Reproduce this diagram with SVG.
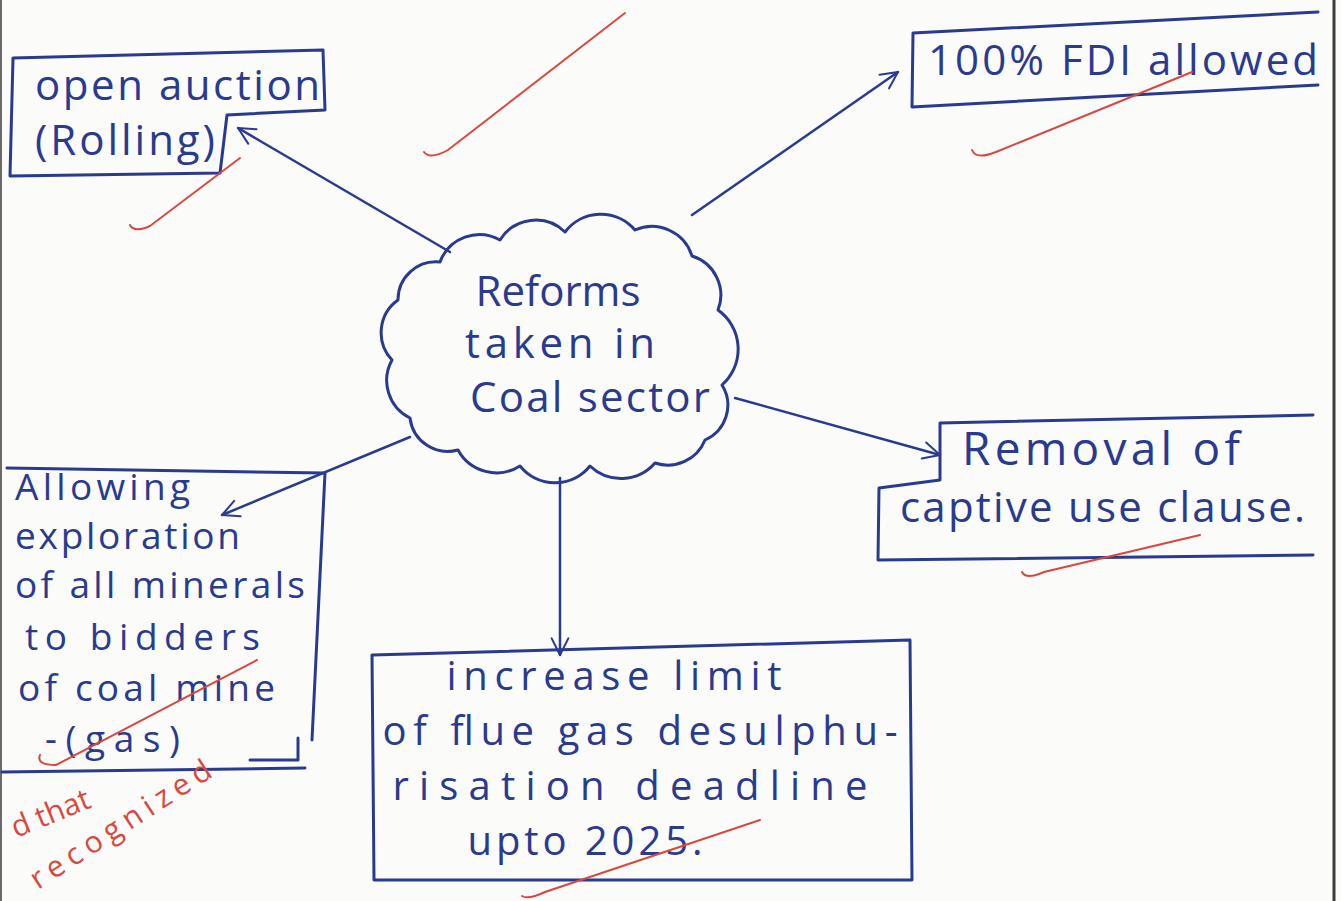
<svg xmlns="http://www.w3.org/2000/svg" width="1341" height="901" viewBox="0 0 1341 901">
<defs>
<style>
.ink{fill:none;stroke:#2a3a8f;stroke-width:3;stroke-linecap:round;stroke-linejoin:round}
.con{fill:none;stroke:#2a3a8f;stroke-width:2.5;stroke-linecap:round}
.red{fill:none;stroke:#d8483f;stroke-width:2;stroke-linecap:round}
.t{font-family:"Open Sans","Liberation Sans",sans-serif;fill:#2a3a8f;font-size:42px}
.s{font-size:37px}
.m{font-size:40px}
.b{font-size:46px}
.c{text-anchor:middle}
.rt{font-family:"Open Sans","Liberation Sans",sans-serif;fill:#d8483f;font-size:30px}
</style>
<marker id="arr" viewBox="0 0 12 12" refX="11" refY="6" markerWidth="20" markerHeight="20" orient="auto" markerUnits="userSpaceOnUse">
<path d="M1,1 L11,6 L1,11" fill="none" stroke="#2a3a8f" stroke-width="1.2" stroke-linecap="round" stroke-linejoin="round"/>
</marker>
</defs>
<rect width="1341" height="901" fill="#fbfbfa"/>
<line x1="1334" y1="0" x2="1334" y2="901" stroke="#3a3a3a" stroke-width="3"/>
<line x1="1" y1="0" x2="1" y2="901" stroke="#6a6a6a" stroke-width="2"/>

<g id="connectors">
<path class="con" d="M450,252 L238,128" marker-end="url(#arr)"/>
<path class="con" d="M692,215 L898,72" marker-end="url(#arr)"/>
<path class="con" d="M735,398 L940,455" marker-end="url(#arr)"/>
<path class="con" d="M410,437 L222,515" marker-end="url(#arr)"/>
<path class="con" d="M560,478 L560,655" marker-end="url(#arr)"/>
</g>

<g id="center">
<path class="ink" d="M398,300 A38,38 0 0 1 440,262 A42,42 0 0 1 500,240 A42,42 0 0 1 565,232 A45,45 0 0 1 635,230 A42,42 0 0 1 692,256 A41,41 0 0 1 718,310 A48,48 0 0 1 722,385 A38,38 0 0 1 705,440 A40,40 0 0 1 655,463 A45,45 0 0 1 590,466 A45,45 0 0 1 520,466 A44,44 0 0 1 458,450 A38,38 0 0 1 410,418 A42,42 0 0 1 392,360 A40,40 0 0 1 398,300 Z"/>
<text class="t c" x="558" y="306" textLength="165">Reforms</text>
<text class="t c" x="560" y="358" textLength="190">taken in</text>
<text class="t c" x="590" y="412" textLength="240">Coal sector</text>
</g>

<g id="open-auction">
<path class="ink" d="M13,58 L323,50 L325,110 L227,115 L220,173 L10,176 Z"/>
<text class="t" x="35" y="100" textLength="285">open auction</text>
<text class="t" x="35" y="155" textLength="180">(Rolling)</text>
</g>

<g id="fdi">
<path class="ink" d="M1318,12 L913,33 L912,107 L1318,85"/>
<text class="t" x="928" y="75" textLength="390">100% FDI allowed</text>
</g>

<g id="captive">
<path class="ink" d="M1313,415 L940,423 L940,480 L879,488 L878,560 L1313,555"/>
<text class="t b" x="962" y="465" textLength="278">Removal of</text>
<text class="t" x="900" y="522" textLength="405">captive use clause.</text>
</g>

<g id="exploration">
<path class="ink" d="M7,468 L325,473 L312,740"/>
<path class="ink" d="M298,738 L298,760 L250,760"/>
<path class="ink" d="M2,772 L305,768"/>
<text class="t s" x="15" y="500" textLength="175">Allowing</text>
<text class="t s" x="15" y="549" textLength="225">exploration</text>
<text class="t s" x="15" y="598" textLength="290">of all minerals</text>
<text class="t s" x="25" y="650" textLength="235">to bidders</text>
<text class="t s" x="18" y="701" textLength="257">of coal mine</text>
<text class="t s" x="45" y="752" textLength="135">-(gas)</text>
</g>

<g id="fgd">
<path class="ink" d="M372,655 L910,640 L912,880 L374,880 Z"/>
<text class="t c m" x="614" y="690" textLength="335">increase limit</text>
<text class="t c m" x="640" y="745" textLength="515">of flue gas desulphu-</text>
<text class="t c m" x="630" y="800" textLength="475">risation deadline</text>
<text class="t c m" x="585" y="855" textLength="235">upto 2025.</text>
</g>

<g id="annotations">
<path class="red" d="M424,152 Q430,160 448,150 L625,13"/>
<path class="red" d="M130,225 Q134,233 150,226 L240,158"/>
<path class="red" d="M972,150 Q976,160 996,152 L1192,72"/>
<path class="red" d="M1022,572 Q1026,580 1044,572 L1200,535"/>
<path class="red" d="M522,896 Q528,900 545,892 L760,820"/>
<path class="red" d="M40,755 Q36,765 56,765 L257,660"/>
<text class="rt" x="16" y="838" transform="rotate(-22 16 838)">d that</text>
<text class="rt" x="38" y="890" transform="rotate(-33 38 890)" textLength="210">recognized</text>
</g>
</svg>
